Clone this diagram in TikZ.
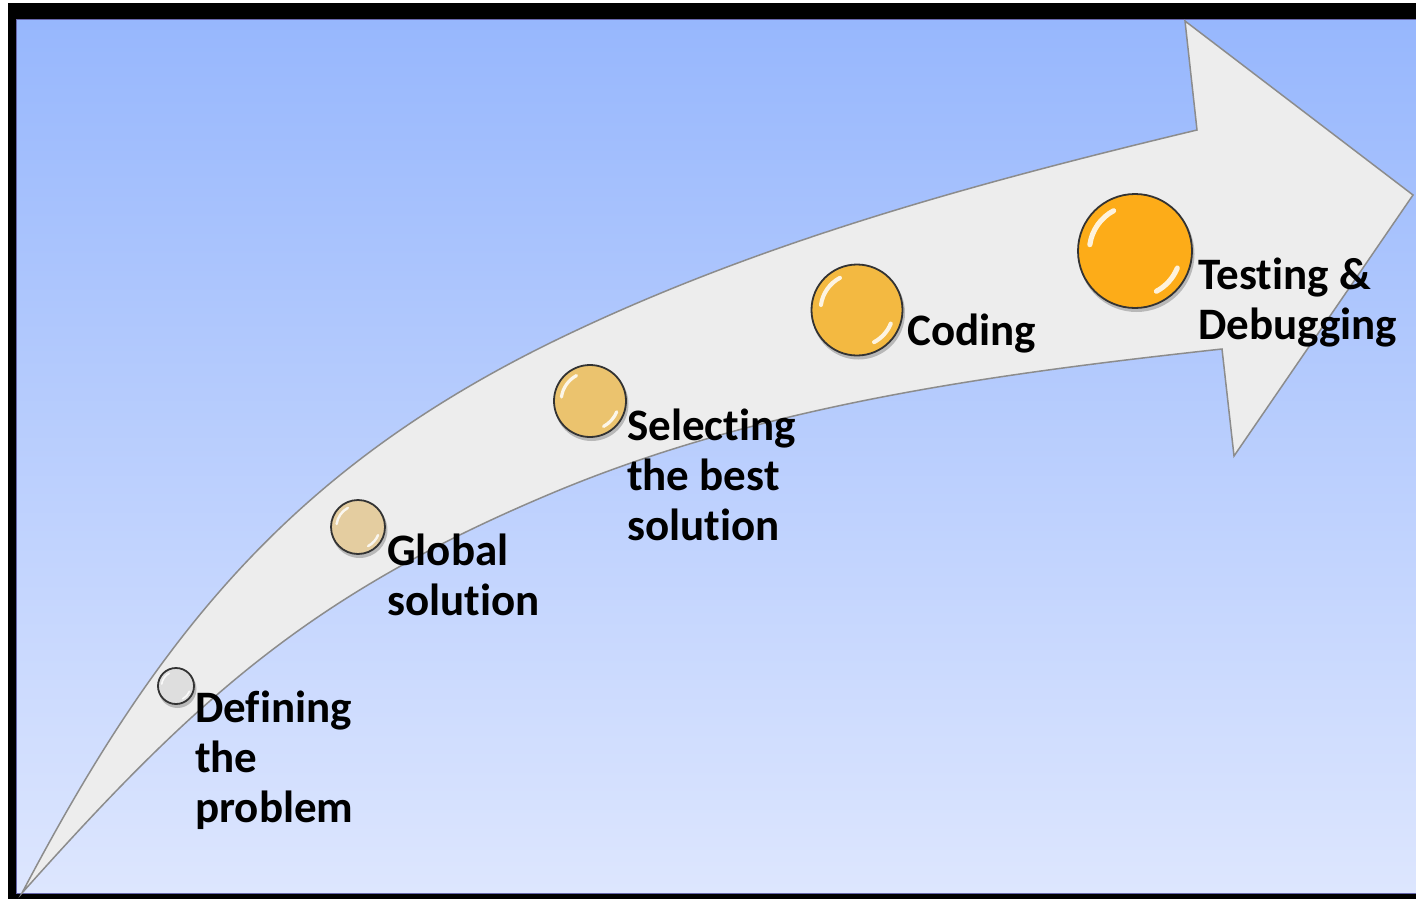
\documentclass[tikz,border=0pt]{standalone}
\usepackage{fontspec}
\setmainfont{Carlito}[Ligatures=CommonOff]
\begin{document}
\begin{tikzpicture}[x=1pt,y=-1pt,
  lbl/.style={anchor=base west,inner sep=0pt,align=left,font=\bfseries\fontsize{45}{50}\selectfont},
  ball/.style={circle,draw=black!80,line width=1.8pt,inner sep=0pt},
  hl/.style={white,opacity=0.85,line cap=round},
  arrowbody/.style={fill=black!7,draw=black!45,line width=1.5pt,line join=miter}]
\definecolor{bgtop}{RGB}{151,183,253}
\definecolor{bgbot}{RGB}{221,230,254}
\definecolor{ballA}{RGB}{222,222,222}
\definecolor{ballB}{RGB}{228,205,160}
\definecolor{ballC}{RGB}{235,195,110}
\definecolor{ballD}{RGB}{243,185,65}
\definecolor{ballE}{RGB}{253,172,24}
\useasboundingbox (0,0) rectangle (1416,899);
\fill[white] (0,0) rectangle (1416,899);
\fill[black] (8,3) rectangle (1416,899);
\shade[top color=bgtop,bottom color=bgbot] (16,20) rectangle (1416,893);
\draw[draw=black!55!blue!60,line width=1pt] (1416,20) -- (16,20) -- (16,893) -- (1416,893);
% arrow
\path[arrowbody] (22,893)
  .. controls (157,636) and (290,471) .. (550,343)
  .. controls (754,243) and (976,183) .. (1197,130)
  -- (1185,21) -- (1413,195) -- (1234,456) -- (1222,349)
  .. controls (994,374) and (761,405) .. (550,494)
  .. controls (310,595) and (195,699) .. (22,893)
  -- cycle;
% balls
\foreach \n/\x/\y/\r/\c in {bA/176/686/18/ballA, bB/358/527/27/ballB, bC/590/401/36/ballC, bD/857/310/45.5/ballD, bE/1135/251/57/ballE}{
  \fill[black,opacity=0.22] (\x+1.5,\y+3) circle[radius=\r+1];
  \node[ball,minimum size=2*\r pt,fill=\c] (\n) at (\x,\y) {};
  \draw[hl,line width=0.09*\r pt] (\n.center) ++(-118:0.8*\r) arc[start angle=-118,end angle=-172,radius=0.8*\r];
  \draw[hl,line width=0.09*\r pt] (\n.center) ++(22:0.8*\r) arc[start angle=22,end angle=62,radius=0.8*\r];
}
% labels (anchor = baseline of last line)
\node[lbl] (tA) at (195,822) {Defining\\the\\problem};
\node[lbl] (tB) at (387,615) {Global\\solution};
\node[lbl] (tC) at (627,540) {Selecting\\the best\\solution};
\node[lbl] (tD) at (907,345) {Coding};
\node[lbl] (tE) at (1198,339) {Testing \&\\Debugging};
\end{tikzpicture}
\end{document}
